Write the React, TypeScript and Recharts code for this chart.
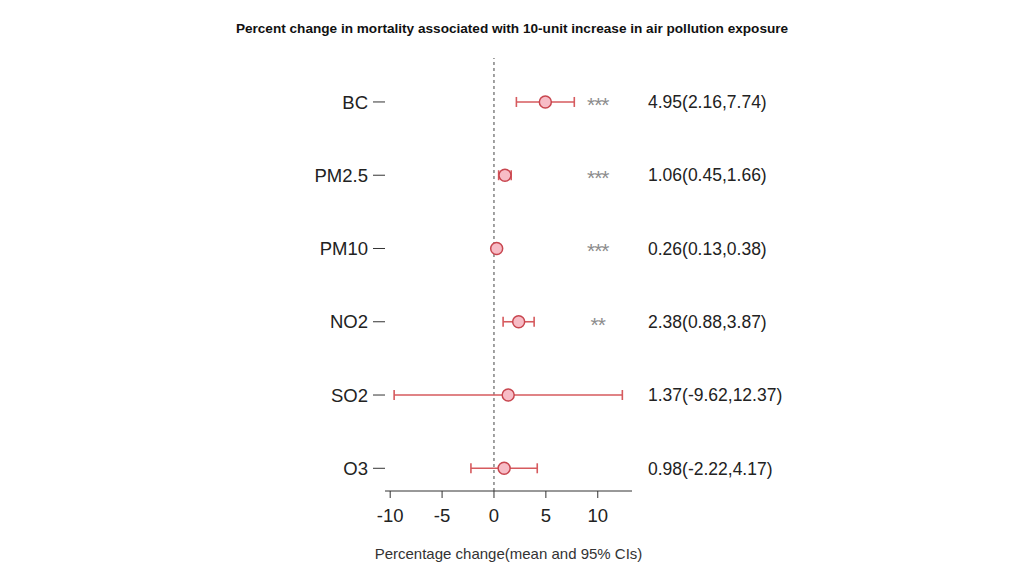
import React from 'react'
import {
  ScatterChart,
  Scatter,
  XAxis,
  YAxis,
  ErrorBar,
  ReferenceLine,
} from 'recharts'

// pollutants top to bottom
const pollutants = ['BC', 'PM2.5', 'PM10', 'NO2', 'SO2', 'O3']
const means = [4.95, 1.06, 0.26, 2.38, 1.37, 0.98]
const lowers = [2.16, 0.45, 0.13, 0.88, -9.62, -2.22]
const uppers = [7.74, 1.66, 0.38, 3.87, 12.37, 4.17]
const stars = ['***', '***', '***', '**', '', '']
const xTicks = [-10, -5, 0, 5, 10]
const STAR_X = 10

const rowTicks = pollutants.map((_, i) => i)
const ciLabels = pollutants.map(
  (_, i) => `${means[i].toFixed(2)}(${lowers[i].toFixed(2)},${uppers[i].toFixed(2)})`
)

const points = pollutants.map((name, i) => ({
  name,
  y: i,
  x: means[i],
  err: [means[i] - lowers[i], uppers[i] - means[i]],
}))

const starRows = pollutants.map((name, i) => ({ name, y: i, x: STAR_X, label: stars[i] }))

const RED = '#d65a5e'

const Dot = (props: any) => {
  const { cx, cy } = props
  return <circle cx={cx} cy={cy} r={6} fill="#f7bcc6" stroke="#c8464f" strokeWidth={1.5} />
}

const Stars = (props: any) => {
  const { cx, cy, payload } = props
  if (!payload.label) return null
  return (
    <text x={cx} y={cy + 10} textAnchor="middle" fill="#8c8c8c" fontSize={21} letterSpacing={-1}>
      {payload.label}
    </text>
  )
}

export default function App() {
  return (
    <div
      style={{
        position: 'absolute',
        left: 0,
        top: 0,
        width: 1024,
        height: 576,
        background: '#fff',
        fontFamily: '"Liberation Sans", Arial, sans-serif',
      }}
    >
      <div
        style={{
          position: 'absolute',
          top: 21,
          left: 0,
          width: 1024,
          textAlign: 'center',
          fontSize: 13.6,
          fontWeight: 'bold',
          color: '#111',
        }}
      >
        Percent change in mortality associated with 10-unit increase in air pollution exposure
      </div>
      <ScatterChart
        width={1024}
        height={576}
        margin={{ top: 58, right: 192, bottom: 15, left: 300 }}
      >
        <XAxis
          type="number"
          dataKey="x"
          domain={[-10.5, 13.3]}
          ticks={xTicks}
          allowDataOverflow
          stroke="#333"
          tickSize={7}
          tickMargin={11}
          height={70}
          tick={{ fill: '#222', fontSize: 18.5 }}
          label={{
            value: 'Percentage change(mean and 95% CIs)',
            position: 'insideBottom',
            offset: 2,
            fill: '#333',
            fontSize: 15,
          }}
        />
        <YAxis
          yAxisId="left"
          type="number"
          dataKey="y"
          domain={[-0.6, 5.31]}
          reversed
          ticks={rowTicks}
          interval={0}
          tickFormatter={(v: number) => pollutants[v]}
          width={85}
          axisLine={false}
          tickSize={12}
          tickMargin={5}
          stroke="#333"
          tick={{ fill: '#222', fontSize: 18.5 }}
        />
        <YAxis
          yAxisId="right"
          orientation="right"
          type="number"
          dataKey="y"
          domain={[-0.6, 5.31]}
          reversed
          ticks={rowTicks}
          interval={0}
          tickFormatter={(v: number) => ciLabels[v]}
          width={200}
          axisLine={false}
          tickLine={false}
          tickSize={0}
          tickMargin={16}
          tick={{ fill: '#222', fontSize: 17.5, textAnchor: 'start' }}
        />
        <ReferenceLine
          x={0}
          yAxisId="left"
          stroke="#444"
          strokeDasharray="3 3"
          ifOverflow="extendDomain"
        />
        <Scatter
          data={starRows}
          yAxisId="right"
          shape={Stars}
          isAnimationActive={false}
        />
        <Scatter data={points} yAxisId="left" shape={Dot} isAnimationActive={false}>
          <ErrorBar dataKey="err" direction="x" width={5} stroke={RED} strokeWidth={1.6} />
        </Scatter>
      </ScatterChart>
    </div>
  )
}
